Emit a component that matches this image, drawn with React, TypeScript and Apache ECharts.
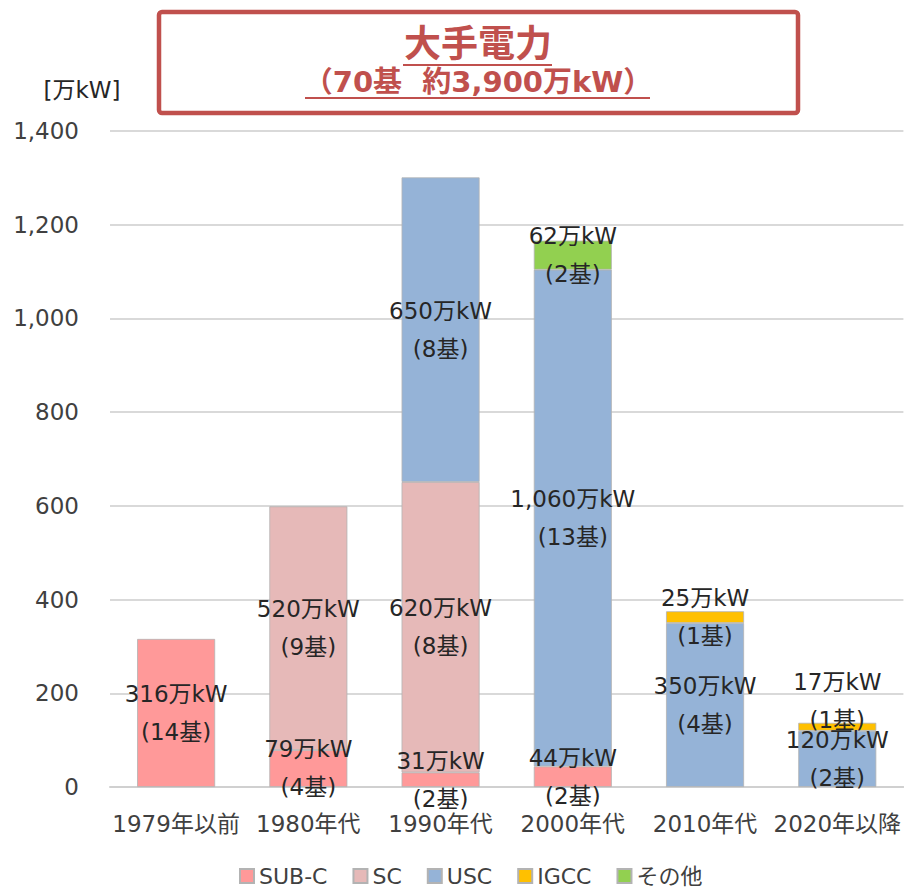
import React, { useEffect, useRef } from "react";
import * as echarts from "echarts";

const categories = ["1979年以前", "1980年代", "1990年代", "2000年代", "2010年代", "2020年以降"];
const seriesNames = ["SUB-C", "SC", "USC", "IGCC", "その他"];
const subC = [316, 79, 31, 44, null, null];
const subCUnits = [14, 4, 2, 2, null, null];
const sc = [null, 520, 620, null, null, null];
const scUnits = [null, 9, 8, null, null, null];
const usc = [null, null, 650, 1060, 350, 120];
const uscUnits = [null, null, 8, 13, 4, 2];
const igcc = [null, null, null, null, 25, 17];
const igccUnits = [null, null, null, null, 1, 1];
const other = [null, null, null, 62, null, null];
const otherUnits = [null, null, null, 2, null, null];
const colors = ["#ff9999", "#e6b9b8", "#95b3d7", "#ffc000", "#92d050"];
const yMin = 0;
const yMax = 1400;
const yInterval = 200;
const titleMain = "大手電力";
const titleSub = "（70基  約3,900万kW）";
const unitLabel = "[万kW]";

const FONT = "'DejaVu Sans', 'Noto Sans CJK JP', sans-serif";

function makeSeries(name: string, values: (number | null)[], units: (number | null)[], color: string) {
  return {
    name,
    type: "bar",
    stack: "total",
    barWidth: 78,
    itemStyle: { color, borderColor: "#b3b3b3", borderWidth: 0.8 },
    data: values.map((v, i) => {
      const item: any = { value: v };
      if (name === "IGCC" && i === 5) {
        item.label = { offset: [0, -26] };
      }
      return item;
    }),
    label: {
      show: true,
      position: "inside",
      color: "#262626",
      fontSize: 23,
      fontFamily: FONT,
      lineHeight: 38,
      formatter: (p: any) => {
        const v = values[p.dataIndex];
        const u = units[p.dataIndex];
        if (v == null) return "";
        return `${v.toLocaleString("en-US")}万kW\n(${u}基)`;
      },
    },
  };
}

export default function App() {
  const ref = useRef<HTMLDivElement>(null);
  useEffect(() => {
    if (!ref.current) return;
    const chart = echarts.init(ref.current, null, { renderer: "svg" });
    chart.setOption({
      animation: false,
      color: colors,
      textStyle: { fontFamily: FONT },
      grid: { left: 110, right: 0, top: 131, bottom: 101, containLabel: false },
      legend: {
        data: seriesNames,
        bottom: -4,
        left: 234,
        itemWidth: 14,
        itemHeight: 14,
        itemGap: 25,
        icon: "rect",
        textStyle: { fontSize: 22, color: "#404040", fontFamily: FONT },
      },
      xAxis: {
        type: "category",
        data: categories,
        axisLine: { lineStyle: { color: "#d0d0d0", width: 2 } },
        axisTick: { show: false },
        axisLabel: { fontSize: 23, color: "#404040", margin: 25, fontFamily: FONT, interval: 0 },
      },
      yAxis: {
        type: "value",
        min: yMin,
        max: yMax,
        interval: yInterval,
        axisLine: { show: false },
        axisTick: { show: false },
        splitLine: { lineStyle: { color: "#d9d9d9", width: 2 } },
        axisLabel: {
          fontSize: 23,
          color: "#404040",
          margin: 31,
          fontFamily: FONT,
          formatter: (v: number) => v.toLocaleString("en-US"),
        },
      },
      series: [
        makeSeries(seriesNames[0], subC, subCUnits, colors[0]),
        makeSeries(seriesNames[1], sc, scUnits, colors[1]),
        makeSeries(seriesNames[2], usc, uscUnits, colors[2]),
        makeSeries(seriesNames[3], igcc, igccUnits, colors[3]),
        makeSeries(seriesNames[4], other, otherUnits, colors[4]),
      ],
      graphic: [
        {
          type: "rect",
          shape: { x: 159, y: 12, width: 639, height: 101, r: 3 },
          style: { fill: "#ffffff", stroke: "#c0504d", lineWidth: 4.5 },
          z: 10,
        },
        {
          type: "text",
          x: 478,
          y: 44,
          style: {
            text: titleMain,
            fill: "#c0504d",
            font: `bold 37px ${FONT}`,
            align: "center",
            verticalAlign: "middle",
          },
          z: 11,
        },
        {
          type: "line",
          shape: { x1: 403, y1: 65, x2: 552, y2: 65 },
          style: { stroke: "#c0504d", lineWidth: 2 },
          z: 11,
        },
        {
          type: "text",
          x: 478,
          y: 82,
          style: {
            text: titleSub,
            fill: "#c0504d",
            font: `bold 29px ${FONT}`,
            align: "center",
            verticalAlign: "middle",
          },
          z: 11,
        },
        {
          type: "line",
          shape: { x1: 305, y1: 98, x2: 650, y2: 98 },
          style: { stroke: "#c0504d", lineWidth: 2 },
          z: 11,
        },
        {
          type: "text",
          x: 82,
          y: 90,
          style: {
            text: unitLabel,
            fill: "#262626",
            font: `23px ${FONT}`,
            align: "center",
            verticalAlign: "middle",
          },
        },
      ],
    });
    return () => chart.dispose();
  }, []);
  return (
    <div style={{ position: "fixed", left: 0, top: 0, width: 904, height: 888, background: "#fff" }}>
      <div ref={ref} style={{ width: 904, height: 888 }} />
    </div>
  );
}
